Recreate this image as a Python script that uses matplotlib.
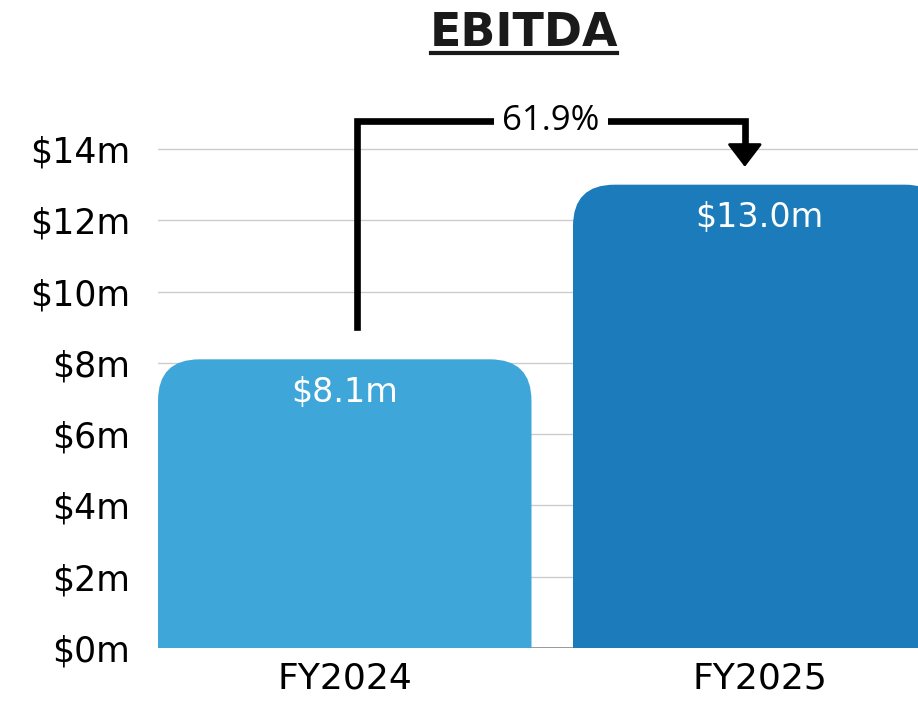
import matplotlib.pyplot as plt
from matplotlib.patches import FancyBboxPatch

# Data
categories = ["FY2024", "FY2025"]
ebitda = [8.1, 13.0]  # $m
growth_label = "61.9%"
yticks = [0, 2, 4, 6, 8, 10, 12, 14]

bar_colors = ["#3FA6DA", "#1C7BBA"]
font = "DejaVu Sans"

fig = plt.figure(figsize=(9.18, 7.01), dpi=100)
# axes runs past the right edge so the 2nd bar is cut, like the original
ax = fig.add_axes([158 / 918, 53 / 701, 788.5 / 918, 534.6 / 701])
ax.set_xlim(-0.45, 1.45)
ax.set_ylim(0, 15)

# grid behind bars
for t in yticks[1:]:
    ax.axhline(t, color="#cccccc", lw=1, zorder=0)
ax.axhline(0, color="#888888", lw=1.2, zorder=0)

# bars with rounded top corners
width = 0.9
aspect = 415 / 35.64  # px per x unit / px per y unit
for i, (val, col) in enumerate(zip(ebitda, bar_colors)):
    patch = FancyBboxPatch((i - width / 2, -2), width, val + 2,
                           boxstyle="round,pad=0,rounding_size=0.1",
                           mutation_aspect=aspect, fc=col, ec="none", zorder=2)
    ax.add_patch(patch)
    ax.text(i, val - 0.93, f"${val:.1f}m", ha="center", va="center", color="white",
            fontsize=24, family=font, zorder=3)

# growth bracket
x1, x2 = 0.03, 0.964
ytop = 14.8
ax.plot([x1, x1, x2, x2], [9.0, ytop, ytop, 14.1], color="black", lw=4.8,
        solid_joinstyle="miter", zorder=4)
ax.annotate("", xy=(x2, 13.5), xytext=(x2, 14.15),
            arrowprops=dict(arrowstyle="-|>,head_length=0.72,head_width=0.55",
                            mutation_scale=20, color="black", lw=2,
                            joinstyle="round", shrinkA=0, shrinkB=0), zorder=4)
ax.text((x1 + x2) / 2, ytop, growth_label, ha="center", va="center", fontsize=25,
        family="Open Sans", zorder=5,
        bbox=dict(boxstyle="square,pad=0.25", fc="white", ec="none"))

ax.set_xticks(range(len(categories)))
ax.set_xticklabels(categories, fontsize=26, family=font)
ax.set_yticks(yticks)
ax.set_yticklabels([f"${t}m" for t in yticks], fontsize=25, family=font)
ax.tick_params(length=0, pad=20)
ax.tick_params(axis="x", pad=10)
for s in ax.spines.values():
    s.set_visible(False)

fig.text(524 / 918, 1 - 33 / 701, "EBITDA", ha="center", va="center", fontsize=33,
         fontweight="heavy", family=font, color="#1a1a1a")
fig.add_artist(plt.Line2D([431 / 918, 617 / 918], [1 - 53 / 701, 1 - 53 / 701],
                          color="#1a1a1a", lw=3))

fig.savefig("out.png", dpi=100)
